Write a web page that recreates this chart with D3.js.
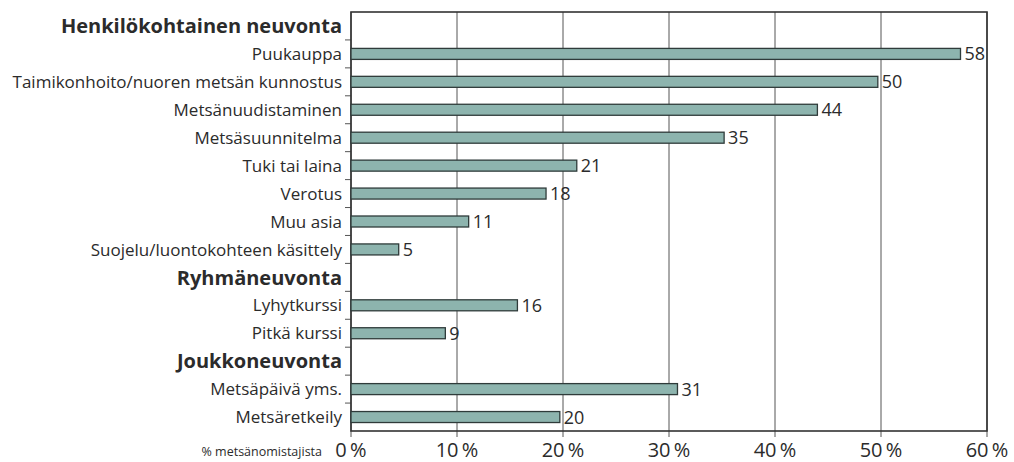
<!DOCTYPE html>
<head>
  <meta charset="UTF-8" />
  <style>
    body { margin: 0; background: #fff; }
    text { font-family: "Open Sans", Roboto, sans-serif; fill: #2b2b2b; }
  </style>
</head>
<body>
  <svg width="1014" height="462"></svg>
</body>

<script src="https://cdn.jsdelivr.net/npm/d3@7"></script>
<script>
  // rows top to bottom; headers have no bar
  const labels = [
    "Henkilökohtainen neuvonta", "Puukauppa", "Taimikonhoito/nuoren metsän kunnostus",
    "Metsänuudistaminen", "Metsäsuunnitelma", "Tuki tai laina", "Verotus", "Muu asia",
    "Suojelu/luontokohteen käsittely", "Ryhmäneuvonta", "Lyhytkurssi", "Pitkä kurssi",
    "Joukkoneuvonta", "Metsäpäivä yms.", "Metsäretkeily"
  ];
  const headers = ["Henkilökohtainen neuvonta", "Ryhmäneuvonta", "Joukkoneuvonta"];
  const values = [null, 57.5, 49.7, 44, 35.2, 21.3, 18.4, 11.1, 4.5, null, 15.7, 8.9, null, 30.8, 19.7];
  const valueLabels = ["", "58", "50", "44", "35", "21", "18", "11", "5", "", "16", "9", "", "31", "20"];
  const xTicks = [0, 10, 20, 30, 40, 50, 60];

  const svg = d3.select("svg");
  const m = { left: 351, right: 987, top: 12, bottom: 431 };

  const x = d3.scaleLinear().domain([0, 60]).range([m.left, m.right]);
  const y = d3.scaleBand().domain(labels).range([m.top, m.bottom]);

  // gridlines + bottom ticks
  svg.selectAll(".grid").data(xTicks).join("line")
    .attr("x1", d => x(d)).attr("x2", d => x(d))
    .attr("y1", m.top).attr("y2", m.bottom + 6)
    .attr("stroke", "#555").attr("stroke-width", 1);

  // left ticks at row boundaries
  svg.selectAll(".ytick").data(labels.slice(1)).join("line")
    .attr("x1", m.left - 6).attr("x2", m.left)
    .attr("y1", d => y(d)).attr("y2", d => y(d))
    .attr("stroke", "#555").attr("stroke-width", 1);

  // frame
  svg.append("rect")
    .attr("x", m.left).attr("y", m.top)
    .attr("width", m.right - m.left).attr("height", m.bottom - m.top)
    .attr("fill", "none").attr("stroke", "#333").attr("stroke-width", 1.6);

  const rows = labels.map((l, i) => ({ label: l, v: values[i], t: valueLabels[i] }));
  const barH = 11;

  svg.selectAll(".bar").data(rows.filter(d => d.v !== null)).join("rect")
    .attr("x", x(0))
    .attr("y", d => y(d.label) + y.bandwidth() / 2 - barH / 2)
    .attr("width", d => x(d.v) - x(0))
    .attr("height", barH)
    .attr("fill", "#8db4ae").attr("stroke", "#2f3b3a").attr("stroke-width", 1.3);

  svg.selectAll(".val").data(rows.filter(d => d.v !== null)).join("text")
    .attr("x", d => x(d.v) + 4)
    .attr("y", d => y(d.label) + y.bandwidth() / 2)
    .attr("dy", "0.36em")
    .attr("font-size", 18)
    .attr("fill", "#333")
    .text(d => d.t);

  svg.selectAll(".lab").data(rows).join("text")
    .attr("x", m.left - 9)
    .attr("y", d => y(d.label) + y.bandwidth() / 2)
    .attr("dy", "0.36em")
    .attr("text-anchor", "end")
    .attr("font-size", d => headers.includes(d.label) ? 20 : 17)
    .attr("font-weight", d => headers.includes(d.label) ? "bold" : "normal")
    .text(d => d.label);

  svg.selectAll(".xl").data(xTicks).join("text")
    .attr("x", d => x(d))
    .attr("y", 450)
    .attr("dy", "0.36em")
    .attr("text-anchor", "middle")
    .attr("font-size", 20)
    .attr("fill", "#444")
    .text(d => d + "\u2009%");

  svg.append("text")
    .attr("x", 322).attr("y", 451).attr("dy", "0.36em")
    .attr("text-anchor", "end").attr("font-size", 12.5)
    .text("% metsänomistajista");
</script>
